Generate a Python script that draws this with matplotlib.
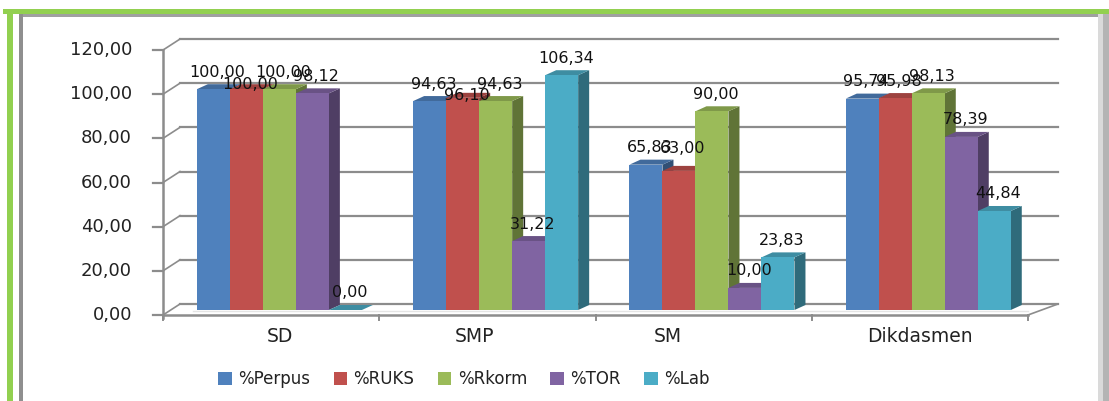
import numpy as np
import matplotlib.pyplot as plt
from matplotlib.patches import Polygon, Rectangle

# school level vs facility percentages
categories = ['SD', 'SMP', 'SM', 'Dikdasmen']
series = ['%Perpus', '%RUKS', '%Rkorm', '%TOR', '%Lab']
perpus = [100.00, 94.63, 65.83, 95.74]
ruks = [100.00, 96.10, 63.00, 95.98]
rkorm = [100.00, 94.63, 90.00, 98.13]
tor = [98.12, 31.22, 10.00, 78.39]
lab = [0.00, 106.34, 23.83, 44.84]
yticks = [0, 20, 40, 60, 80, 100, 120]

values = [perpus, ruks, rkorm, tor, lab]
colors = ['#4F81BD', '#C0504D', '#9BBB59', '#8064A2', '#4BACC6']

W, H = 1109, 401
fig = plt.figure(figsize=(W / 100, H / 100), dpi=100)
ax = fig.add_axes([0, 0, 1, 1])
ax.axis('off')

# pixel -> data mapping (category step 216.3 px, 2.208 px per unit)
PX = 216.3
PY = 2.208
X0 = 163   # pixel of the left axis
Y0 = 315   # pixel of the zero line
ax.set_xlim(-X0 / PX - 0.5, (W - X0) / PX - 0.5)
ax.set_ylim((Y0 - H) / PY, Y0 / PY)

def px(dx):
    return dx / PX

def py(dy):
    return dy / PY

grid_c = '#8C8C8C'
xl = -0.5
xr = xl + px(1028 - X0)
back_dx, back_dy = px(17), py(11)
x_back_r = xl + px(1058 - X0)

# back wall gridlines, side diagonals and left ticks
for v in yticks:
    ax.plot([xl + back_dx, x_back_r], [v + back_dy, v + back_dy], color=grid_c, lw=1.6, zorder=1)
    ax.plot([xl, xl + back_dx], [v, v + back_dy], color=grid_c, lw=1.2, zorder=1)
    ax.plot([xl - px(10), xl], [v, v], color=grid_c, lw=1.6, zorder=1)
    ax.text(xl - px(31), v, f'{v:.2f}'.replace('.', ','), ha='right', va='center',
            fontsize=13, color='#222222')
ax.plot([xl, xl], [-py(3), 120], color=grid_c, lw=1.8, zorder=1)

# floor
ax.plot([xl, xr], [0, 0], color=grid_c, lw=1.8, zorder=1)
ax.plot([xr, x_back_r], [0, back_dy], color=grid_c, lw=1.2, zorder=1)
for i in range(len(categories) + 1):
    ax.plot([xl + i, xl + i], [0, -py(5)], color=grid_c, lw=1.4, zorder=1)
ax.plot([xl + px(30), xr], [py(4), py(4)], color='#E4E4E4', lw=1.0, zorder=1)

def shade(c, f):
    r, g, b = [int(c[k:k + 2], 16) / 255 for k in (1, 3, 5)]
    return (r * f, g * f, b * f)

# 3d bars
w = px(33)
dx, dy = px(11), py(5)
base = py(5)
label_shift = {(0, 1): -5.5, (1, 1): -6.5, (2, 1): 2.5}
z = 2
for i in range(len(categories)):
    for j in range(len(series)):
        v = values[j][i]
        x0 = i + 0.038 - 2.5 * w + j * w
        top = base + v
        c = colors[j]
        ax.add_patch(Polygon([(x0 + w, base), (x0 + w, top), (x0 + w + dx, top + dy),
                              (x0 + w + dx, base + dy)], closed=True,
                             facecolor=shade(c, 0.62), edgecolor='none', zorder=z))
        ax.add_patch(Polygon([(x0, top), (x0 + w, top), (x0 + w + dx, top + dy),
                              (x0 + dx, top + dy)], closed=True,
                             facecolor=shade(c, 0.82), edgecolor='none', zorder=z))
        if v > 0:
            ax.add_patch(Rectangle((x0, base), w, v, facecolor=c, edgecolor='none', zorder=z))
        z += 1
        ty = top + 7.7 + label_shift.get((i, j), 0)
        ax.text(x0 + w / 2 + px(4), ty, f'{v:.2f}'.replace('.', ','), ha='center', va='center',
                fontsize=11.5, color='#111111', zorder=100)

# category labels (centres in px, as laid out by the chart)
cat_px = [280, 475, 668, 920]
for name, cx in zip(categories, cat_px):
    ax.text(xl + px(cx - X0), (Y0 - 336) / PY, name, ha='center', va='center', fontsize=13.5,
            color='#222222')

# legend
handles = [Rectangle((0, 0), 1, 1, facecolor=c, edgecolor='none') for c in colors]
fig.legend(handles, series, loc='center', bbox_to_anchor=(464 / W, 1 - 379 / H), ncol=5,
           frameon=False, fontsize=12, handlelength=0.8, handleheight=0.8,
           handletextpad=0.4, columnspacing=1.4, labelcolor='#222222')

# outer frame: green band and grey inner border
def frect(x, y, w_, h_, c):
    fig.add_artist(Rectangle((x / W, 1 - (y + h_) / H), w_ / W, h_ / H,
                             transform=fig.transFigure, facecolor=c, edgecolor='none'))

frect(3, 9, W - 3, 5, '#92D050')
frect(7, 9, 6, H - 9, '#92D050')
frect(19, 14, W - 19, 3, '#A0A0A0')
frect(19, 14, 4, H - 14, '#8F8F8F')
frect(1098, 14, 5, H - 14, '#DADADA')
frect(1103, 14, 6, H - 14, '#B4B4B4')

fig.savefig('out.png', dpi=100)
